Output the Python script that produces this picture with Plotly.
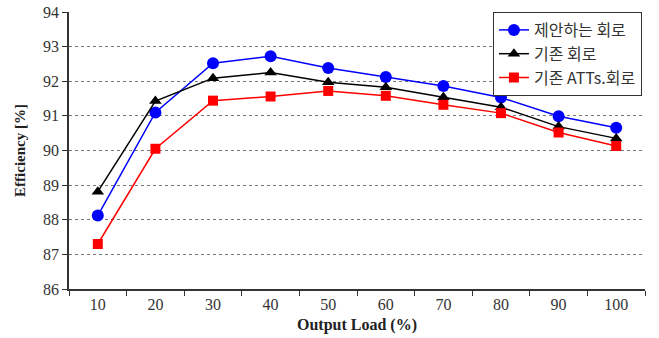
import plotly.graph_objects as go

loads = ["10", "20", "30", "40", "50", "60", "70", "80", "90", "100"]
proposed = [88.12, 91.10, 92.52, 92.72, 92.38, 92.12, 91.86, 91.53, 90.99, 90.66]
conventional = [88.81, 91.43, 92.09, 92.25, 91.97, 91.83, 91.54, 91.25, 90.69, 90.35]
conventional_atts = [87.30, 90.05, 91.44, 91.56, 91.72, 91.58, 91.32, 91.08, 90.52, 90.13]
y_ticks = [86, 87, 88, 89, 90, 91, 92, 93, 94]

fig = go.Figure()
fig.add_trace(go.Scatter(x=loads, y=proposed, name="제안하는 회로", mode="lines+markers",
                         line=dict(color="#0000ff", width=1.5),
                         marker=dict(symbol="circle", size=12, color="#0000ff")))
fig.add_trace(go.Scatter(x=loads, y=conventional, name="기존 회로", mode="lines+markers",
                         line=dict(color="#000000", width=1.5),
                         marker=dict(symbol="triangle-up", size=11, color="#000000")))
fig.add_trace(go.Scatter(x=loads, y=conventional_atts, name="기존 ATTs.회로", mode="lines+markers",
                         line=dict(color="#ff0000", width=1.5),
                         marker=dict(symbol="square", size=10, color="#ff0000")))

fig.update_layout(
    width=659, height=338,
    margin=dict(l=69, r=14, t=12, b=49, autoexpand=False),
    paper_bgcolor="white", plot_bgcolor="white",
    font=dict(family="Liberation Serif", size=16, color="#333333"),
    legend=dict(x=0.736, y=1.0, xanchor="left", yanchor="top",
                bordercolor="#333333", borderwidth=1, bgcolor="white",
                font=dict(family="Noto Sans CJK KR", size=16, color="#333333"),
                tracegroupgap=0, itemwidth=30),
    xaxis=dict(type="category", range=[-0.5, 9.5], tickson="boundaries",
               ticks="outside", ticklen=5, tickcolor="#333333", automargin=False,
               showline=True, linecolor="#333333", linewidth=1.5,
               showgrid=False, zeroline=False,
               title=dict(text="<b>Output Load (%)</b>", standoff=7,
                          font=dict(family="Liberation Serif", size=16, color="#222222"))),
    yaxis=dict(range=[86, 94], tickvals=y_ticks, ticks="outside", ticklen=5, automargin=False,
               tickcolor="#333333", showline=True, linecolor="#333333", linewidth=1.5,
               showgrid=True, gridcolor="#777777", griddash="dot", gridwidth=1,
               zeroline=False,
               title=dict(text="<b>Efficiency [%]</b>", standoff=14,
                          font=dict(family="Liberation Serif", size=15, color="#222222"))),
)

fig.write_html("out.html", post_script="document.body.style.margin='0';",
               config={"displayModeBar": False})
